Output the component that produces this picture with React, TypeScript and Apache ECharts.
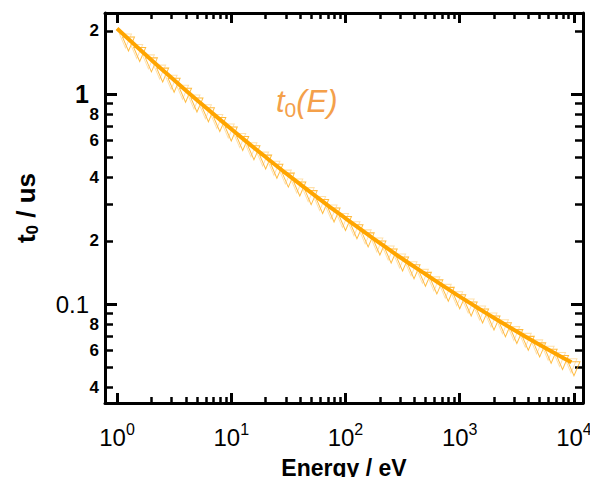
import React, { useEffect, useRef } from 'react';
import * as echarts from 'echarts';

// Fitted curve t0(E)
const LINE_E = [1, 1.5, 2, 3, 5, 7, 10, 15, 20, 30, 50, 70, 100, 150, 200, 300, 500, 700, 1000, 1500, 2000, 3000, 5000, 7000, 9500];
const LINE_T = [2.05, 1.674, 1.453, 1.194, 0.937, 0.802, 0.681, 0.568, 0.501, 0.42, 0.339, 0.295, 0.256, 0.218, 0.195, 0.167, 0.139, 0.123, 0.1085, 0.0945, 0.0858, 0.0752, 0.064, 0.0578, 0.0528];

// Triangle markers
const MARK_E = [1.26, 1.58, 2.0, 2.51, 3.16, 3.98, 5.01, 6.31, 7.94, 10, 12.6, 15.8, 20, 25.1, 31.6, 39.8, 50.1, 63.1, 79.4, 100, 126, 158, 200, 251, 316, 398, 501, 631, 794, 1000, 1259, 1585, 1995, 2512, 3162, 3981, 5012, 6310, 7943, 10000];
const MARK_T = [1.729, 1.541, 1.376, 1.23, 1.101, 0.987, 0.886, 0.796, 0.716, 0.645, 0.581, 0.525, 0.474, 0.429, 0.389, 0.353, 0.321, 0.2915, 0.2655, 0.242, 0.221, 0.202, 0.1847, 0.1692, 0.1552, 0.1425, 0.1311, 0.1207, 0.1112, 0.1026, 0.0948, 0.0877, 0.0813, 0.0754, 0.07, 0.065, 0.0605, 0.0564, 0.0527, 0.0492];

// Axes
const X_RANGE = [0.785, 12000];
const Y_RANGE = [0.0338, 2.43];
const X_MAJOR = [1, 10, 100, 1000, 10000];
const X_MINOR = [2, 3, 4, 5, 6, 7, 8, 9, 20, 30, 40, 50, 60, 70, 80, 90, 200, 300, 400, 500, 600, 700, 800, 900, 2000, 3000, 4000, 5000, 6000, 7000, 8000, 9000];
const Y_MAJOR = [1, 0.1];
const Y_MINOR = [2, 0.9, 0.8, 0.7, 0.6, 0.5, 0.4, 0.3, 0.2, 0.09, 0.08, 0.07, 0.06, 0.05, 0.04];
const Y_MINOR_LABELED = [2, 0.8, 0.6, 0.4, 0.2, 0.08, 0.06, 0.04];

const FONT = 'Liberation Sans';
const lg = (v: number) => Math.log10(v);

export default function App() {
  const ref = useRef<HTMLDivElement>(null);

  useEffect(() => {
    if (!ref.current) return;
    const chart = echarts.init(ref.current, null, { renderer: 'svg' });

    const xMin = lg(X_RANGE[0]);
    const xMax = lg(X_RANGE[1]);
    const yMin = lg(Y_RANGE[0]);
    const yMax = lg(Y_RANGE[1]);

    const tickStyle = (len: number, width: number, values: number[]) => ({
      show: true,
      inside: true,
      length: len,
      customValues: values.map(lg),
      lineStyle: { color: '#000', width },
    });
    const noTick = { show: false };
    const lineOn = { show: true, onZero: false, lineStyle: { color: '#000', width: 3 } };
    const lineOff = { show: false, onZero: false };

    const minorLabel = (v: number) => {
      const t = Math.pow(10, v);
      const m = Math.round(t / Math.pow(10, Math.floor(v + 1e-9)));
      return String(m);
    };

    const xBase = { type: 'value', min: xMin, max: xMax, splitLine: { show: false } };
    const yBase = { type: 'value', min: yMin, max: yMax, splitLine: { show: false } };

    const option: any = {
      animation: false,
      textStyle: { fontFamily: FONT },
      grid: { left: 105, top: 13, right: 7, bottom: 74, outerBoundsMode: 'none' },
      xAxis: [
        {
          ...xBase,
          position: 'bottom',
          axisLine: lineOn,
          axisTick: tickStyle(10, 3, X_MAJOR),
          axisLabel: {
            show: true,
            customValues: X_MAJOR.map(lg),
            margin: 18,
            color: '#000',
            fontSize: 24,
            lineHeight: 32,
            fontFamily: FONT,
            formatter: (v: number) => `10{s|${Math.round(v)}}`,
            rich: {
              s: { fontSize: 16, lineHeight: 10, verticalAlign: 'top', color: '#000', fontFamily: FONT },
            },
          },
        },
        {
          ...xBase,
          position: 'bottom',
          axisLine: lineOff,
          axisTick: tickStyle(6, 2.5, X_MINOR),
          axisLabel: { show: false },
          name: 'Energy / eV',
          nameLocation: 'middle',
          nameGap: 53,
          nameTextStyle: { fontSize: 23, fontWeight: 'bold', color: '#000', fontFamily: FONT },
        },
        {
          ...xBase,
          position: 'top',
          axisLine: lineOn,
          axisTick: tickStyle(10, 3, X_MAJOR),
          axisLabel: { show: false },
        },
        {
          ...xBase,
          position: 'top',
          axisLine: lineOff,
          axisTick: tickStyle(6, 2.5, X_MINOR),
          axisLabel: { show: false },
        },
      ],
      yAxis: [
        {
          ...yBase,
          position: 'left',
          axisLine: lineOn,
          axisTick: tickStyle(12, 3, Y_MAJOR),
          axisLabel: {
            show: true,
            customValues: Y_MAJOR.map(lg),
            margin: 16,
            color: '#000',
            fontFamily: FONT,
            formatter: (v: number) => (Math.abs(v) < 1e-6 ? '{b|1}' : '{n|0.1}'),
            rich: {
              b: { fontSize: 25, fontWeight: 'bold', color: '#000', fontFamily: FONT },
              n: { fontSize: 24, color: '#000', fontFamily: FONT },
            },
          },
        },
        {
          ...yBase,
          position: 'left',
          axisLine: lineOff,
          axisTick: tickStyle(8, 2.5, Y_MINOR),
          axisLabel: {
            show: true,
            customValues: Y_MINOR_LABELED.map(lg),
            margin: 6,
            color: '#000',
            fontSize: 17,
            fontWeight: 'bold',
            fontFamily: FONT,
            formatter: minorLabel,
          },
        },
        {
          ...yBase,
          position: 'right',
          axisLine: lineOn,
          axisTick: tickStyle(12, 3, Y_MAJOR),
          axisLabel: { show: false },
        },
        {
          ...yBase,
          position: 'right',
          axisLine: lineOff,
          axisTick: tickStyle(8, 2.5, Y_MINOR),
          axisLabel: { show: false },
        },
        {
          ...yBase,
          position: 'left',
          axisLine: lineOff,
          axisTick: noTick,
          axisLabel: { show: false },
          name: '{a|t}{b|0}{a| / us}',
          nameLocation: 'middle',
          nameGap: 64,
          nameRotate: 90,
          nameTextStyle: {
            color: '#000',
            fontFamily: FONT,
            rich: {
              a: { fontSize: 26, fontWeight: 'bold', lineHeight: 30, color: '#000', fontFamily: FONT },
              b: { fontSize: 17, fontWeight: 'bold', lineHeight: 16, verticalAlign: 'bottom', color: '#000', fontFamily: FONT },
            },
          },
        },
      ],
      graphic: [
        {
          type: 'text',
          left: 276,
          top: 86,
          z: 10,
          style: {
            text: '{i|t}{s|0}{i|(E)}',
            rich: {
              i: { fontSize: 31, fontStyle: 'italic', fontFamily: FONT, fill: '#F4A04A', lineHeight: 36 },
              s: { fontSize: 21, fontFamily: FONT, fill: '#F4A04A', lineHeight: 14, verticalAlign: 'bottom' },
            },
          },
        },
      ],
      series: [
        {
          type: 'scatter',
          xAxisIndex: 0,
          yAxisIndex: 0,
          symbol: 'triangle',
          symbolRotate: 180,
          symbolSize: [12, 14],
          z: 2,
          itemStyle: {
            color: 'rgba(255,255,255,0)',
            borderColor: '#FFAA10',
            borderWidth: 1,
            shadowColor: 'rgba(255,210,130,0.85)',
            shadowBlur: 0,
            shadowOffsetX: -3,
            shadowOffsetY: -3,
          },
          data: MARK_E.map((e, i) => [lg(e), lg(MARK_T[i])]),
        },
        {
          type: 'line',
          xAxisIndex: 0,
          yAxisIndex: 0,
          symbol: 'none',
          smooth: 0.3,
          z: 3,
          lineStyle: { color: '#FFA500', width: 4 },
          data: LINE_E.map((e, i) => [lg(e), lg(LINE_T[i])]),
        },
      ],
    };

    chart.setOption(option);
    return () => chart.dispose();
  }, []);

  return (
    <div
      ref={ref}
      style={{ position: 'absolute', left: 0, top: 0, width: 590, height: 477, background: '#fff' }}
    />
  );
}
